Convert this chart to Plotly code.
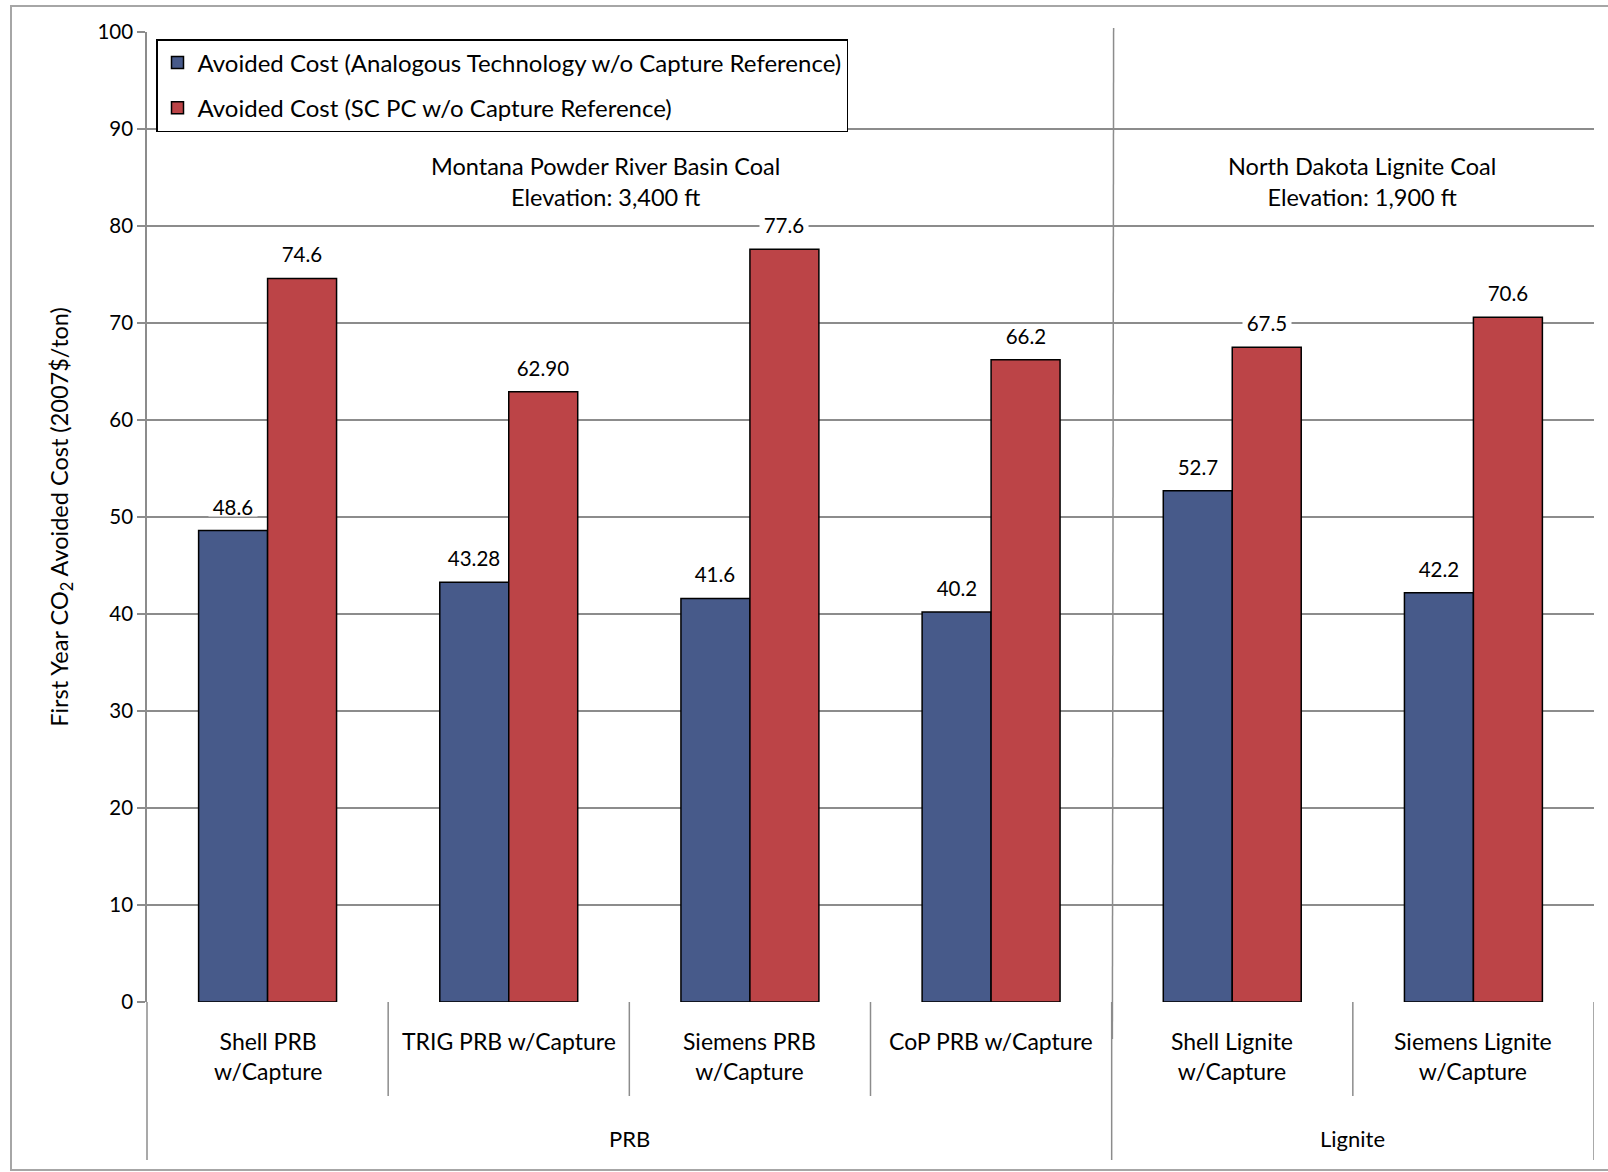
import plotly.graph_objects as go

categories = ["Shell PRB<br>w/Capture", "TRIG PRB w/Capture", "Siemens PRB<br>w/Capture",
              "CoP PRB w/Capture", "Shell Lignite<br>w/Capture", "Siemens Lignite<br>w/Capture"]
groups = ["PRB", "Lignite"]
group_sizes = [4, 2]
series_names = ["Avoided Cost (Analogous Technology w/o Capture Reference)",
                "Avoided Cost (SC PC w/o Capture Reference)"]
analogous = [48.6, 43.28, 41.6, 40.2, 52.7, 42.2]
analogous_labels = ["48.6", "43.28", "41.6", "40.2", "52.7", "42.2"]
scpc = [74.6, 62.90, 77.6, 66.2, 67.5, 70.6]
scpc_labels = ["74.6", "62.90", "77.6", "66.2", "67.5", "70.6"]
region_notes = ["Montana Powder River Basin Coal<br>Elevation: 3,400 ft",
                "North Dakota Lignite Coal<br>Elevation: 1,900 ft"]
y_ticks = list(range(0, 101, 10))

W, H = 1608, 1172
ML, MR, MT, MB = 147, 14, 32, 170
PW, PH = W - ML - MR, H - MT - MB
FONT = "Lato"
GRID = "#8c8c8c"
BLUE = "#475a8a"
RED = "#bc4447"

def px_x(px):
    return (px - ML) / PW

def px_y(py):
    return (H - MB - py) / PH

xs = list(range(len(categories)))
bw = 0.286

fig = go.Figure()
fig.add_trace(go.Bar(x=xs, y=analogous, name=series_names[0], width=bw, offset=-bw,
                     marker=dict(color=BLUE, line=dict(color="#000000", width=1.5)),
                     legendgroup="a"))
fig.add_trace(go.Bar(x=xs, y=scpc, name=series_names[1], width=bw, offset=0,
                     marker=dict(color=RED, line=dict(color="#000000", width=1.5)),
                     legendgroup="b"))

annotations = []
def data_label(x, v, t):
    return dict(x=x, y=v, xref="x", yref="y", text=t, showarrow=False,
                yshift=24, bgcolor="white", borderpad=0, height=18,
                width=len(t) * 10 + 8,
                font=dict(family=FONT, size=20.5, color="#000"))

for i, (v, t) in enumerate(zip(analogous, analogous_labels)):
    annotations.append(data_label(i - bw / 2, v, t))
for i, (v, t) in enumerate(zip(scpc, scpc_labels)):
    annotations.append(data_label(i + bw / 2, v, t))

# category labels
for i, c in enumerate(categories):
    annotations.append(dict(x=i, y=px_y(1025), xref="x", yref="paper", text=c, showarrow=False,
                            yanchor="top", xanchor="center",
                            font=dict(family=FONT, size=23, color="#000")))
# group labels
start = 0
for g, n in zip(groups, group_sizes):
    annotations.append(dict(x=start + (n - 1) / 2, y=px_y(1138), xref="x", yref="paper", text=g,
                            showarrow=False, yanchor="middle",
                            font=dict(family=FONT, size=22, color="#000")))
    start += n

# region notes
annotations.append(dict(x=1.40, y=84.6, xref="x", yref="y", text=region_notes[0], showarrow=False,
                        font=dict(family=FONT, size=23.5, color="#000")))
annotations.append(dict(x=4.54, y=84.6, xref="x", yref="y", text=region_notes[1], showarrow=False,
                        font=dict(family=FONT, size=23.5, color="#000")))

shapes = []
# outer border
shapes.append(dict(type="rect", xref="paper", yref="paper", x0=px_x(11), x1=px_x(1612),
                   y0=px_y(1170), y1=px_y(6), line=dict(color="#a6a6a6", width=2), layer="below"))
# y axis extension down into label area
shapes.append(dict(type="line", xref="paper", yref="paper", x0=0, x1=0, y0=0, y1=px_y(1160),
                   line=dict(color=GRID, width=1.5)))
# category dividers
start = 0
for n in group_sizes:
    for k in range(1, n):
        xb = start + k - 0.5
        shapes.append(dict(type="line", xref="x", yref="paper", x0=xb, x1=xb, y0=0, y1=px_y(1096),
                           line=dict(color=GRID, width=1.5)))
    start += n
    xb = start - 0.5
    shapes.append(dict(type="line", xref="x", yref="paper", x0=xb, x1=xb, y0=0, y1=px_y(1160),
                       line=dict(color=GRID, width=1.5)))
# drawn separator line between regions
shapes.append(dict(type="line", xref="x", yref="paper", x0=3.508, x1=3.503, y0=px_y(28), y1=px_y(1039),
                   line=dict(color=GRID, width=1.5)))

fig.update_layout(
    width=W, height=H,
    margin=dict(l=ML, r=MR, t=MT, b=MB),
    paper_bgcolor="white", plot_bgcolor="white",
    barmode="overlay",
    font=dict(family=FONT, color="#000"),
    showlegend=True,
    legend=dict(x=px_x(156), y=px_y(39), xanchor="left", yanchor="top",
                bgcolor="white", bordercolor="#000", borderwidth=1.5,
                font=dict(family=FONT, size=24, color="#000"),
                traceorder="grouped", tracegroupgap=11),
    annotations=annotations,
    shapes=shapes,
    xaxis=dict(range=[-0.5, 5.5], showticklabels=False, showgrid=False, zeroline=False,
               showline=False, fixedrange=True),
    yaxis=dict(range=[0, 100], tickvals=y_ticks, showgrid=True, gridcolor=GRID, gridwidth=1.5,
               zeroline=False, showline=True, linecolor=GRID, linewidth=1.5,
               ticks="outside", ticklen=8, tickcolor=GRID, tickwidth=1.5,
               tickfont=dict(family=FONT, size=20.5, color="#000"),
               title=dict(text="First Year CO<sub>2</sub> Avoided Cost (2007$/ton)",
                          font=dict(family=FONT, size=23.5, color="#000"), standoff=22)),
)

fig.write_html("out.html")
